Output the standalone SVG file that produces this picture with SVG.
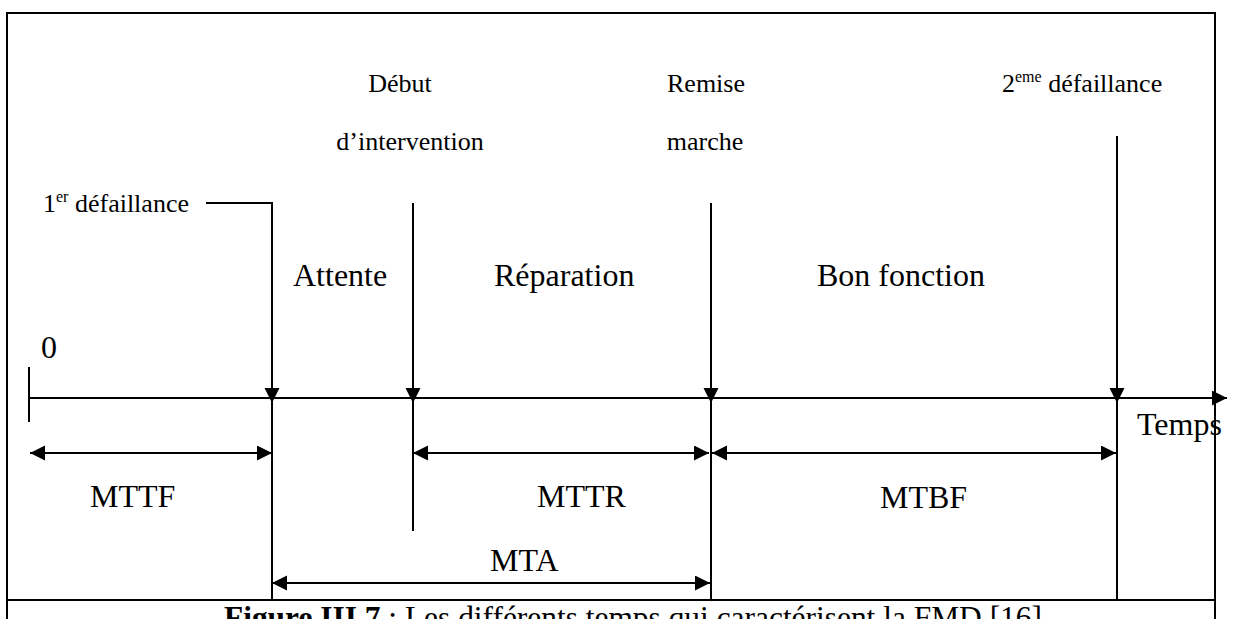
<svg xmlns="http://www.w3.org/2000/svg" width="1238" height="619" viewBox="0 0 1238 619">
<style>
text{font-family:"Liberation Serif","Times New Roman",serif;fill:#000}
.s{font-size:26px}
.l{font-size:32px}
.ln{stroke:#000;stroke-width:2;fill:none}
.sup{font-size:16px}
</style>
<defs>
<marker id="ah" markerUnits="userSpaceOnUse" markerWidth="16" markerHeight="16" refX="15" refY="7.5" orient="auto-start-reverse" viewBox="0 0 16 16">
<path d="M0,0 L15,7.5 L0,15 z" fill="#000"/>
</marker>
</defs>
<rect width="1238" height="619" fill="#fff"/>
<g id="frame">
<path class="ln" d="M7,619 V13 H1215 V619"/>
<line class="ln" x1="7" y1="600" x2="1215" y2="600"/>
</g>
<g id="connectors">
<line class="ln" x1="29" y1="367" x2="29" y2="422"/>
<line class="ln" x1="29" y1="398" x2="1227" y2="398" marker-end="url(#ah)"/>
<path class="ln" d="M206,203 H272 V403" marker-end="url(#ah)"/>
<line class="ln" x1="272" y1="400" x2="272" y2="600"/>
<line class="ln" x1="413" y1="203" x2="413" y2="403" marker-end="url(#ah)"/>
<line class="ln" x1="413" y1="400" x2="413" y2="531"/>
<line class="ln" x1="711" y1="203" x2="711" y2="403" marker-end="url(#ah)"/>
<line class="ln" x1="711" y1="400" x2="711" y2="600"/>
<line class="ln" x1="1117" y1="136" x2="1117" y2="403" marker-end="url(#ah)"/>
<line class="ln" x1="1117" y1="400" x2="1117" y2="600"/>
<line class="ln" x1="30" y1="453" x2="272" y2="453" marker-start="url(#ah)" marker-end="url(#ah)"/>
<line class="ln" x1="413" y1="453" x2="709" y2="453" marker-start="url(#ah)" marker-end="url(#ah)"/>
<line class="ln" x1="712" y1="453" x2="1116" y2="453" marker-start="url(#ah)" marker-end="url(#ah)"/>
<line class="ln" x1="272" y1="583" x2="710" y2="583" marker-start="url(#ah)" marker-end="url(#ah)"/>
</g>
<g id="label-0"><text class="l" x="41" y="358">0</text></g>
<g id="label-first"><text class="s" x="43" y="212">1<tspan class="sup" dy="-10">er</tspan><tspan dy="10"> défaillance</tspan></text></g>
<g id="label-debut"><text class="s" x="400" y="92" text-anchor="middle">Début</text><text class="s" x="410" y="150" text-anchor="middle">d’intervention</text></g>
<g id="label-remise"><text class="s" x="706" y="92" text-anchor="middle">Remise</text><text class="s" x="705" y="150" text-anchor="middle">marche</text></g>
<g id="label-second"><text class="s" x="1002" y="92">2<tspan class="sup" dy="-10">eme</tspan><tspan dy="10"> défaillance</tspan></text></g>
<g id="phase-attente"><text class="l" x="293" y="286">Attente</text></g>
<g id="phase-reparation"><text class="l" x="494" y="286">Réparation</text></g>
<g id="phase-bon"><text class="l" x="817" y="286">Bon fonction</text></g>
<g id="label-temps"><text class="l" x="1137" y="435">Temps</text></g>
<g id="label-mttf"><text class="l" x="90" y="507">MTTF</text></g>
<g id="label-mttr"><text class="l" x="537" y="507">MTTR</text></g>
<g id="label-mtbf"><text class="l" x="880" y="508">MTBF</text></g>
<g id="label-mta"><text class="l" x="490" y="571">MTA</text></g>
<g id="caption"><text class="l" x="224" y="628" textLength="818" lengthAdjust="spacingAndGlyphs"><tspan font-weight="bold">Figure III.7</tspan><tspan> : Les différents temps qui caractérisent la FMD [16]</tspan></text></g>
</svg>
